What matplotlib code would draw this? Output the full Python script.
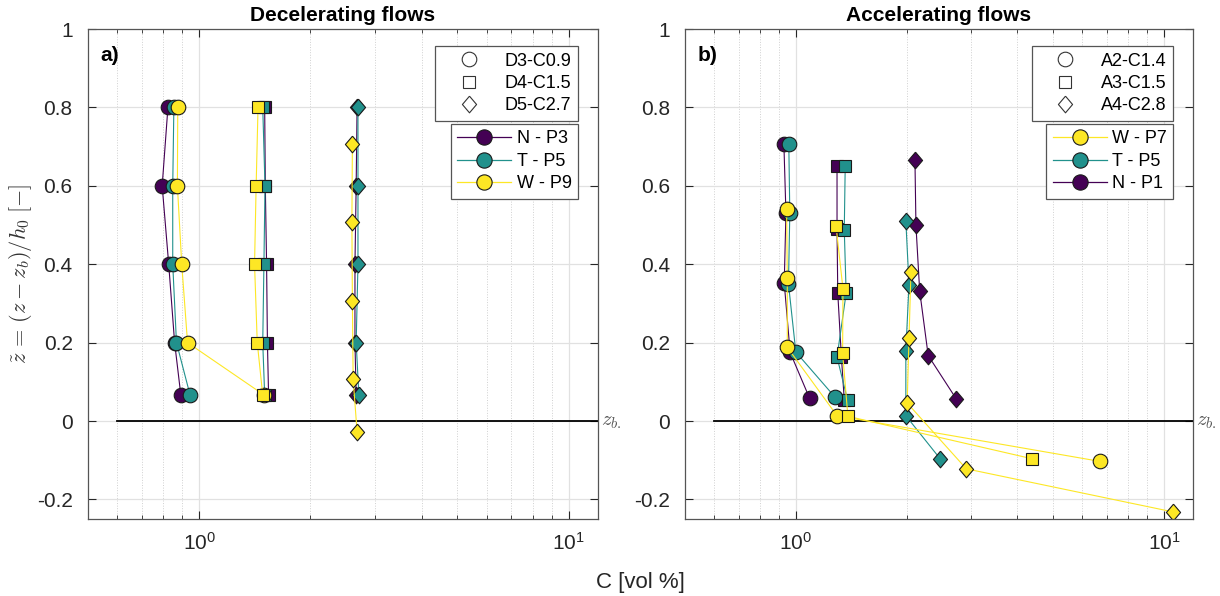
import numpy as np
import matplotlib
matplotlib.use('Agg')
import matplotlib.pyplot as plt
from matplotlib.lines import Line2D
from matplotlib.ticker import FixedLocator, LogLocator, NullFormatter

# 1 Fonts
plt.rcParams['font.family'] = ['Liberation Sans', 'DejaVu Sans']
plt.rcParams['mathtext.fontset'] = 'custom'
plt.rcParams['mathtext.rm'] = 'Liberation Sans'
plt.rcParams['mathtext.it'] = 'Liberation Sans:italic'
plt.rcParams['mathtext.bf'] = 'Liberation Sans:bold'

# 2 Data (C in vol %, z~ depth)
# 2.1 Decelerating flows
dec_z = [0.8, 0.6, 0.4, 0.2, 0.066]
dec_N_circ = [0.823, 0.794, 0.827, 0.858, 0.892]
dec_T_circ = [0.854, 0.848, 0.848, 0.868, 0.945]
dec_W_circ = [0.875, 0.873, 0.897, 0.930, 1.50]
dec_N_sq = [1.504, 1.51, 1.522, 1.53, 1.541]
dec_T_sq = [1.486, 1.507, 1.497, 1.486, 1.504]
dec_W_sq = [1.443, 1.426, 1.412, 1.436, 1.486]
dec_N_dia = [2.675, 2.66, 2.64, 2.64, 2.66]
dec_T_dia = [2.69, 2.69, 2.69, 2.66, 2.705]
dec_W_dia_z = [0.707, 0.507, 0.307, 0.107, -0.027]
dec_W_dia = [2.598, 2.59, 2.598, 2.61, 2.675]

# 2.2 Accelerating flows
acc_N_circ_z = [0.707, 0.53, 0.352, 0.175, 0.058]
acc_N_circ = [0.928, 0.94, 0.93, 0.965, 1.09]
acc_T_circ_z = [0.707, 0.53, 0.35, 0.176, 0.06]
acc_T_circ = [0.957, 0.963, 0.955, 1.0, 1.28]
acc_W_circ_z = [0.541, 0.365, 0.188, 0.0135, -0.103]
acc_W_circ = [0.944, 0.948, 0.948, 1.294, 6.70]
acc_N_sq_z = [0.65, 0.49, 0.326, 0.163, 0.054]
acc_N_sq = [1.294, 1.294, 1.30, 1.33, 1.354]
acc_T_sq_z = [0.65, 0.488, 0.326, 0.163, 0.054]
acc_T_sq = [1.362, 1.354, 1.37, 1.294, 1.382]
acc_W_sq_z = [0.498, 0.337, 0.173, 0.012, -0.096]
acc_W_sq = [1.286, 1.343, 1.34, 1.385, 4.37]
acc_N_dia_z = [0.665, 0.499, 0.332, 0.167, 0.056]
acc_N_dia = [2.107, 2.12, 2.17, 2.289, 2.73]
acc_T_dia_z = [0.511, 0.348, 0.179, 0.0135, -0.097]
acc_T_dia = [1.99, 2.03, 1.99, 1.99, 2.47]
acc_W_dia_z = [0.379, 0.212, 0.046, -0.122, -0.232]
acc_W_dia = [2.055, 2.03, 2.007, 2.905, 10.6]

dec_runs = ['D3-C0.9', 'D4-C1.5', 'D5-C2.7']
acc_runs = ['A2-C1.4', 'A3-C1.5', 'A4-C2.8']
dec_probes = ['N - P3', 'T - P5', 'W - P9']
acc_probes = ['W - P7', 'T - P5', 'N - P1']

purple = '#440154'
teal = '#21918c'
yellow = '#fde725'
axcol = '#262626'

diamond = [(0, 1), (0.85, 0), (0, -1), (-0.85, 0), (0, 1)]
mstyle = {'o': dict(marker='o', ms=10.5), 's': dict(marker='s', ms=8), 'd': dict(marker=diamond, ms=12)}


def draw_profile(ax, x, z, col, mk):
    ax.plot(x, z, color=col, lw=0.8, mfc=col, mec='#1a1a1a', mew=0.8, **mstyle[mk])


def style_axes(ax, title, letter):
    ax.set_xscale('log')
    ax.set_xlim(0.5, 12)
    ax.set_ylim(-0.25, 1)
    ax.set_yticks([-0.2, 0, 0.2, 0.4, 0.6, 0.8, 1])
    ax.set_yticklabels(['-0.2', '0', '0.2', '0.4', '0.6', '0.8', '1'])
    ax.xaxis.set_major_locator(FixedLocator([1, 10]))
    ax.set_xticklabels(['10$^{0}$', '10$^{1}$'])
    ax.xaxis.set_minor_locator(LogLocator(base=10, subs=np.arange(2, 10)))
    ax.xaxis.set_minor_formatter(NullFormatter())
    ax.grid(True, which='major', color='#e1e1e1', lw=0.9)
    ax.grid(True, which='minor', axis='x', color='#d0d0d0', lw=0.7, ls=':')
    ax.set_axisbelow(True)
    ax.tick_params(which='both', direction='in', top=True, right=True,
                   labelsize=15, colors=axcol)
    ax.tick_params(axis='y', pad=11)
    ax.tick_params(axis='x', pad=9)
    ax.tick_params(which='major', length=6, width=0.8)
    ax.tick_params(which='minor', length=3, width=0.6)
    for sp in ax.spines.values():
        sp.set_color('#555555')
        sp.set_linewidth(0.9)
    ax.set_title(title, fontsize=15, fontweight='bold', pad=6)
    ax.text(0.024, 0.965, letter, transform=ax.transAxes, fontsize=15,
            fontweight='bold', va='top', ha='left')
    ax.plot([0.6, 12], [0, 0], color='k', lw=1.3, zorder=1.5)
    ax.text(1.006, 0.2, '$z_{b.}$', transform=ax.transAxes, fontsize=15,
            color='#555555', va='center', ha='left', math_fontfamily='cm')


def add_legends(ax, runs, probes, probe_cols):
    h1 = [Line2D([], [], ls='none', mfc='white', mec='#333333', mew=0.8, **mstyle[m]) for m in ['o', 's', 'd']]
    leg1 = ax.legend(h1, runs, loc='upper right', bbox_to_anchor=(0.961, 0.965), fontsize=13,
                     handlelength=3.0, handletextpad=0.5, labelspacing=0.3, borderpad=0.35,
                     fancybox=False, framealpha=1, edgecolor='#555555', borderaxespad=0)
    leg1.get_frame().set_linewidth(0.9)
    ax.add_artist(leg1)
    h2 = [Line2D([], [], color=c, lw=0.9, mfc=c, mec='#1a1a1a', mew=0.8, marker='o', ms=11) for c in probe_cols]
    leg2 = ax.legend(h2, probes, loc='upper right', bbox_to_anchor=(0.961, 0.806), fontsize=13,
                     handlelength=3.0, handletextpad=0.3, labelspacing=0.3, borderpad=0.35,
                     fancybox=False, framealpha=1, edgecolor='#555555', borderaxespad=0)
    leg2.get_frame().set_linewidth(0.9)


fig = plt.figure(figsize=(12.2, 5.96), dpi=100)
ax1 = fig.add_axes([0.0721, 0.1292, 0.418, 0.822])
ax2 = fig.add_axes([0.5615, 0.1292, 0.4164, 0.822])

# 3 Decelerating flows
draw_profile(ax1, dec_N_circ, dec_z, purple, 'o')
draw_profile(ax1, dec_N_sq, dec_z, purple, 's')
draw_profile(ax1, dec_N_dia, dec_z, purple, 'd')
draw_profile(ax1, dec_T_circ, dec_z, teal, 'o')
draw_profile(ax1, dec_T_sq, dec_z, teal, 's')
draw_profile(ax1, dec_T_dia, dec_z, teal, 'd')
draw_profile(ax1, dec_W_circ, dec_z, yellow, 'o')
draw_profile(ax1, dec_W_sq, dec_z, yellow, 's')
draw_profile(ax1, dec_W_dia, dec_W_dia_z, yellow, 'd')
style_axes(ax1, 'Decelerating flows', 'a)')
add_legends(ax1, dec_runs, dec_probes, [purple, teal, yellow])
ax1.set_ylabel(r'$\tilde{z}\,=\,(z-z_b)/h_0\;[-]$', fontsize=16, color='#333333',
               math_fontfamily='cm', labelpad=2)

# 4 Accelerating flows
draw_profile(ax2, acc_N_circ, acc_N_circ_z, purple, 'o')
draw_profile(ax2, acc_N_sq, acc_N_sq_z, purple, 's')
draw_profile(ax2, acc_N_dia, acc_N_dia_z, purple, 'd')
draw_profile(ax2, acc_T_circ, acc_T_circ_z, teal, 'o')
draw_profile(ax2, acc_T_sq, acc_T_sq_z, teal, 's')
draw_profile(ax2, acc_T_dia, acc_T_dia_z, teal, 'd')
draw_profile(ax2, acc_W_circ, acc_W_circ_z, yellow, 'o')
draw_profile(ax2, acc_W_sq, acc_W_sq_z, yellow, 's')
draw_profile(ax2, acc_W_dia, acc_W_dia_z, yellow, 'd')
style_axes(ax2, 'Accelerating flows', 'b)')
add_legends(ax2, acc_runs, acc_probes, [yellow, teal, purple])

fig.text(0.525, 0.022, 'C [vol %]', fontsize=16, color='#262626', ha='center', va='center')

fig.savefig('out.png', dpi=100)
